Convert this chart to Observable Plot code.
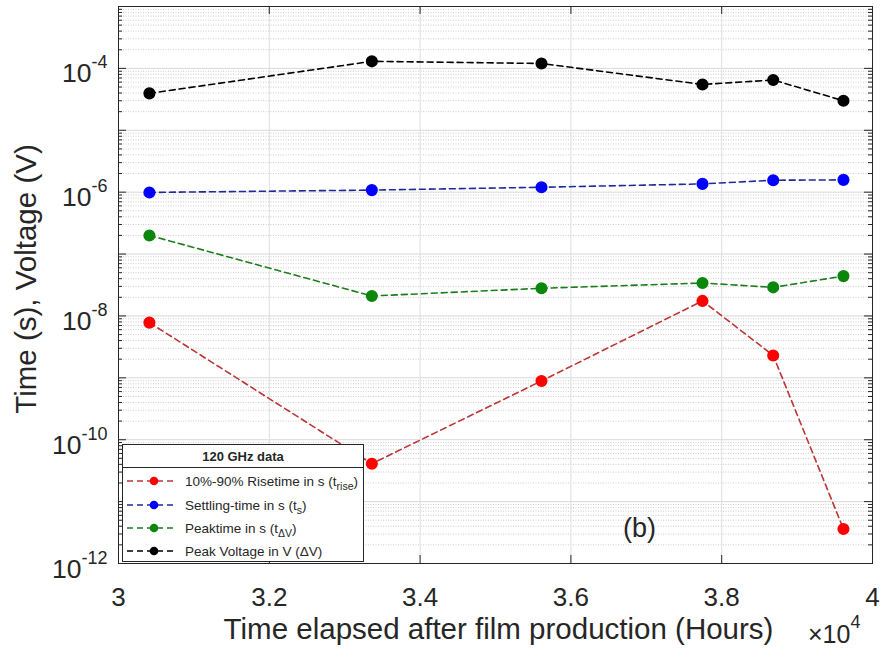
<!DOCTYPE html>
<html>
<head>
<meta charset="utf-8">
<script src="https://cdn.jsdelivr.net/npm/d3@7"></script>
<script src="https://cdn.jsdelivr.net/npm/@observablehq/plot@0.6"></script>
<style>
  body { margin: 0; background: #fff; }
  #chart svg { display: block; }
</style>
</head>
<body>
<div id="chart"></div>
<script>
// ---------------- data ----------------
const hours = [30410, 33360, 35610, 37745, 38683, 39615];
const riseTime     = [7.8e-9, 4.1e-11, 8.9e-10, 1.75e-8, 2.3e-9, 3.6e-12];
const settlingTime = [9.9e-7, 1.08e-6, 1.2e-6, 1.36e-6, 1.56e-6, 1.58e-6];
const peakTime     = [2.0e-7, 2.1e-8, 2.8e-8, 3.4e-8, 2.9e-8, 4.4e-8];
const peakVoltage  = [3.95e-5, 1.3e-4, 1.2e-4, 5.5e-5, 6.5e-5, 3.0e-5];

const seriesLabels = [
  ["10%-90% Risetime in s (t", "rise", ")"],
  ["Settling-time in s (t", "s", ")"],
  ["Peaktime in s (t", "ΔV", ")"],
  ["Peak Voltage in V (ΔV)", "", ""]
];
const legendTitle = "120 GHz data";
const xTicks = [30000, 32000, 34000, 36000, 38000, 40000];
const yLabelTicks = [1e-12, 1e-10, 1e-8, 1e-6, 1e-4];
const yDecades = [1e-12, 1e-11, 1e-10, 1e-9, 1e-8, 1e-7, 1e-6, 1e-5, 1e-4, 1e-3];
const yLabel = "Time (s), Voltage (V)";
const xLabel = "Time elapsed after film production (Hours)";
const panelTag = "(b)";
const panelTagX = 36910, panelTagY = 3.67e-12;

// minor log ticks (2..9 within each decade)
const yMinor = [];
yDecades.slice(0, -1).forEach(d => { for (let m = 2; m <= 9; m++) yMinor.push(m * d); });

// ---------------- styles ----------------
const allValues = [riseTime, settlingTime, peakTime, peakVoltage];
const markerColors = ["#ff0000", "#0000ff", "#0b870b", "#000000"];
const lineColors   = ["#bd3535", "#1f2a9a", "#1d7d1d", "#000000"];
const W = 882, H = 654, ML = 118, MR = 10, MT = 6, MB = 91;
const PW = W - ML - MR, PH = H - MT - MB;
const FONT = "'Liberation Sans', Arial, Helvetica, sans-serif";
const INK = "#262626";

const rows = allValues.map(vals => hours.map((h, i) => ({hours: h, value: vals[i]})));

const marks = [
  Plot.gridY(yMinor, {stroke: "#cccccc", strokeOpacity: 1, strokeDasharray: "1,1.5"}),
  Plot.gridY(yDecades, {stroke: "#d8d8d8", strokeOpacity: 1}),
  Plot.gridX(xTicks, {stroke: "#dedede", strokeOpacity: 1}),
  // inward ticks (MATLAB box style)
  Plot.tickX(xTicks, {x: d => d, insetTop: PH - 8, stroke: INK}),
  Plot.tickX(xTicks, {x: d => d, insetBottom: PH - 8, stroke: INK}),
  Plot.tickY(yDecades, {y: d => d, insetRight: PW - 8, stroke: INK}),
  Plot.tickY(yDecades, {y: d => d, insetLeft: PW - 8, stroke: INK}),
  Plot.tickY(yMinor, {y: d => d, insetRight: PW - 4, stroke: INK}),
  Plot.tickY(yMinor, {y: d => d, insetLeft: PW - 4, stroke: INK}),
  Plot.frame({stroke: INK, strokeWidth: 1})
];
rows.forEach((data, s) => {
  marks.push(Plot.line(data, {x: "hours", y: "value", stroke: lineColors[s], strokeWidth: 1.6, strokeDasharray: "6,4"}));
  marks.push(Plot.dot(data, {x: "hours", y: "value", fill: markerColors[s], stroke: markerColors[s], r: 5.3}));
});
marks.push(
  Plot.axisX(xTicks, {tickSize: 0, tickPadding: 24, tickFormat: d => String(d / 1e4), fontSize: 26, label: null}),
  Plot.axisY(yLabelTicks, {tickSize: 0, tickPadding: 11, tickFormat: d => "10^" + Math.round(Math.log10(d)), fontSize: 26, label: null}),
  Plot.text([yLabel], {frameAnchor: "left", textAnchor: "middle", lineAnchor: "middle", dx: -92, dy: -6, rotate: -90, fontSize: 29.5, fill: INK}),
  Plot.text([xLabel], {frameAnchor: "bottom", textAnchor: "middle", lineAnchor: "middle", dx: 3, dy: 66, fontSize: 29.5, fill: INK}),
  Plot.text([panelTag], {x: () => panelTagX, y: () => panelTagY, fontSize: 27, fill: INK})
);

const chart = Plot.plot({
  width: W, height: H,
  marginLeft: ML, marginRight: MR, marginTop: MT, marginBottom: MB,
  style: {fontFamily: FONT, color: INK, background: "#fff", overflow: "visible"},
  x: {type: "linear", domain: [30000, 40000], axis: null},
  y: {type: "log", domain: [1e-12, 1e-3], axis: null},
  marks
});
document.getElementById("chart").appendChild(chart);

const svg = d3.select(chart);

// superscript exponents on the y tick labels
svg.selectAll('g[aria-label="y-axis tick label"] text').each(function () {
  const t = d3.select(this);
  const exp = t.text().split("^")[1];
  t.text(null).attr("y", null).attr("font-size", null).attr("fill", INK);
  t.append("tspan").attr("dy", 14).attr("font-size", 26.5).text("10");
  t.append("tspan").attr("dy", -14).attr("font-size", 18).text(exp);
});
svg.selectAll('g[aria-label="x-axis tick label"] text').attr("fill", INK);

// ×10^4 exponent note
const xm = svg.append("text").attr("x", 808).attr("y", 643).attr("fill", INK)
  .attr("text-anchor", "start").attr("font-family", FONT).attr("font-size", 25);
xm.append("tspan").text("×10");
xm.append("tspan").attr("dy", -15).attr("font-size", 18).text("4");

// legend box
const lg = svg.append("g").attr("font-family", FONT).attr("fill", INK).attr("text-anchor", "start");
const LX = 122.5, LY = 444.5, LW = 241, LH = 117;
lg.append("rect").attr("x", LX).attr("y", LY).attr("width", LW).attr("height", LH)
  .attr("fill", "#fff").attr("stroke", INK).attr("stroke-width", 1);
lg.append("line").attr("x1", LX).attr("x2", LX + LW).attr("y1", 467.5).attr("y2", 467.5)
  .attr("stroke", INK).attr("stroke-width", 1);
lg.append("text").attr("x", LX + LW / 2).attr("y", 461).attr("text-anchor", "middle")
  .attr("font-weight", "bold").attr("font-size", 13).text(legendTitle);
const rowY = [481, 505, 528, 551];
seriesLabels.forEach((lab, i) => {
  const y = rowY[i];
  lg.append("line").attr("x1", 127).attr("x2", 174).attr("y1", y).attr("y2", y)
    .attr("stroke", lineColors[i]).attr("stroke-width", 1.6).attr("stroke-dasharray", "6,4");
  lg.append("circle").attr("cx", 154).attr("cy", y).attr("r", 4.3).attr("fill", markerColors[i]);
  const t = lg.append("text").attr("x", 185).attr("y", y + 5).attr("font-size", 13.5).attr("text-anchor", "start");
  t.append("tspan").text(lab[0]);
  if (lab[1]) {
    t.append("tspan").attr("dy", 4).attr("font-size", 10.5).text(lab[1]);
    t.append("tspan").attr("dy", -4).text(lab[2]);
  }
});
</script>
</body>
</html>
